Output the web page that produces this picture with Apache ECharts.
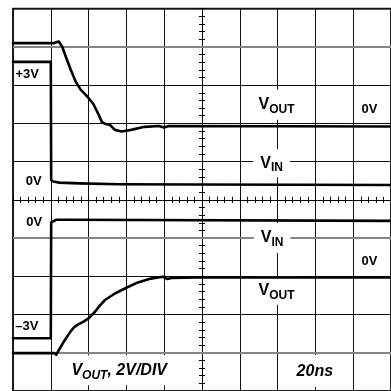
<!DOCTYPE html>
<html>
<head>
<meta charset="utf-8">
<script src="https://cdn.jsdelivr.net/npm/echarts@6/dist/echarts.min.js"></script>
<style>
  html, body { margin: 0; padding: 0; background: #fff; }
  #scope { width: 391px; height: 391px; }
</style>
</head>
<body>
<div id="scope"></div>
<script>
// Time in ns measured from the screen centre (20 ns/div); amplitude in screen divisions.
const vinTopT = [-100, -80, -79.8, -78.7, -75.5, -65, -44, -3, 100];
const vinTopV = [3.61, 3.61, 0.52, 0.48, 0.45, 0.43, 0.41, 0.40, 0.39];

const voutTopT = [-100, -78.2, -77.1, -75.8, -74.8, -74.0, -72.1, -69.5, -66.9, -64.3, -60.8, -57.4,
                  -54.8, -53.0, -51.3, -48.7, -46.1, -42.6, -37.4, -30.5, -22.7, -20.1, -17.5, 100];
const voutTopV = [4.10, 4.10, 4.12, 4.14, 4.10, 4.01, 3.75, 3.41, 3.10, 2.89, 2.71, 2.50,
                  2.24, 2.04, 1.99, 1.96, 1.83, 1.79, 1.83, 1.91, 1.93, 1.89, 1.93, 1.92];

const vinBotT = [-100, -80, -79.8, -78.9, -77.1, -73, 100];
const vinBotV = [-3.62, -3.62, -0.59, -0.55, -0.52, -0.52, -0.55];

const voutBotT = [-100, -78.2, -77.1, -75.6, -73.0, -69.5, -67.8, -66.0, -63.1, -60.0, -56.5, -54.0,
                  -51.3, -46.1, -40.0, -33.9, -27.0, -20.9, -18.3, -15.7, -2.7, 100];
const voutBotV = [-4.01, -4.01, -4.05, -3.92, -3.70, -3.44, -3.34, -3.27, -3.20, -3.10, -2.92, -2.76,
                  -2.62, -2.45, -2.30, -2.16, -2.06, -2.01, -2.07, -2.04, -2.03, -2.03];

// Graticule lines drawn in grey
const greyLines = [-4, -1, 4];

const FONT = '"Liberation Sans", Arial, Helvetica, sans-serif';

// Screen annotations: text, anchor in (ns, div), optional white backing box padding
const notes = [
  { text: '+3V', at: [-92.5, 3.27] },
  { text: '0V', at: [-89.1, 0.47] },
  { text: '0V', at: [-88.8, -0.58] },
  { text: '\u20133V', at: [-92.7, -3.30] },
  { text: '0V', at: [88.6, 2.36] },
  { text: '0V', at: [88.6, -1.61] },
  { text: '{v|V}{s|OUT}', at: [39.4, 2.49], pad: [7, 3] },
  { text: '{v|V}{s|IN}', at: [36.8, 0.96], pad: [6, 7] },
  { text: '{v|V}{s|IN}', at: [37.1, -1.0], pad: [7, 7] },
  { text: '{v|V}{s|OUT}', at: [39.4, -2.38], pad: [6, 3] },
  { text: '{v|V}{s|OUT}{v|, 2V/DIV}', at: [-43.8, -4.46], pad: [7, 3], italic: true },
  { text: '{v|20ns}', at: [59.7, -4.48], pad: [8, 4], italic: true }
];

function pairs(t, v) { return t.map((x, i) => [x, v[i]]); }

function trace(name, t, v) {
  return {
    name: name,
    type: 'line',
    data: pairs(t, v),
    showSymbol: false,
    symbol: 'none',
    smooth: false,
    z: 10,
    lineStyle: { color: '#000', width: 2.6, join: 'round', cap: 'round' },
    silent: true
  };
}

function centreAxis(inside, withSplit, extra) {
  return Object.assign({
    type: 'value',
    axisLine: { show: true, onZero: true, onZeroAxisIndex: 0, lineStyle: { color: '#000', width: 1 } },
    axisTick: { show: true, inside: inside, length: 3, lineStyle: { color: '#000', width: 1 } },
    minorTick: { show: true, splitNumber: 5, length: 3, lineStyle: { color: '#000', width: 1 } },
    axisLabel: { show: false },
    splitLine: { show: withSplit, lineStyle: { color: '#111', width: 1 } },
    minorSplitLine: { show: false }
  }, extra);
}

const chart = echarts.init(document.getElementById('scope'), null, { renderer: 'canvas' });

chart.setOption({
  animation: false,
  backgroundColor: '#fff',
  grid: {
    left: 13, top: 8.7, width: 384.5, height: 384.5,
    show: true, borderColor: '#222', borderWidth: 2, backgroundColor: 'transparent'
  },
  xAxis: [
    centreAxis(false, true, { min: -100, max: 100, interval: 20, position: 'bottom' }),
    centreAxis(true, false, { min: -100, max: 100, interval: 20, position: 'bottom' })
  ],
  yAxis: [
    centreAxis(true, true, { min: -5, max: 5, interval: 1, position: 'left' }),
    centreAxis(false, false, { min: -5, max: 5, interval: 1, position: 'left' })
  ],
  series: [
    {
      name: 'graticule',
      type: 'line',
      data: [],
      z: 1,
      silent: true,
      markLine: {
        silent: true,
        symbol: 'none',
        label: { show: false },
        lineStyle: { color: '#858585', width: 2, type: 'solid' },
        data: greyLines.map(y => ({ yAxis: y }))
      }
    },
    trace('VIN top', vinTopT, vinTopV),
    trace('VOUT top', voutTopT, voutTopV),
    trace('VIN bottom', vinBotT, vinBotV),
    trace('VOUT bottom', voutBotT, voutBotV)
  ]
});

const richStyle = (italic) => {
  const base = { fontFamily: FONT, fontWeight: 'bold', fontStyle: italic ? 'italic' : 'normal', fill: '#000' };
  return {
    v: Object.assign({ fontSize: 16, lineHeight: 16, verticalAlign: 'top' }, base),
    s: Object.assign({ fontSize: 12, lineHeight: 12, verticalAlign: 'top', padding: [7, 0, 0, 0] }, base)
  };
};

chart.setOption({
  graphic: notes.map(n => {
    const p = chart.convertToPixel({ gridIndex: 0 }, n.at);
    const style = {
      text: n.text,
      x: 0, y: 0,
      align: 'center',
      verticalAlign: 'middle',
      fontFamily: FONT,
      fontWeight: 'bold',
      fontStyle: n.italic ? 'italic' : 'normal',
      fontSize: 13,
      fill: '#000'
    };
    if (n.text.indexOf('{') === 0) style.rich = richStyle(n.italic);
    if (n.pad) {
      style.backgroundColor = '#fff';
      style.padding = n.pad;
    }
    return { type: 'text', x: p[0], y: p[1], z: 5, silent: true, style: style };
  })
});
</script>
</body>
</html>
